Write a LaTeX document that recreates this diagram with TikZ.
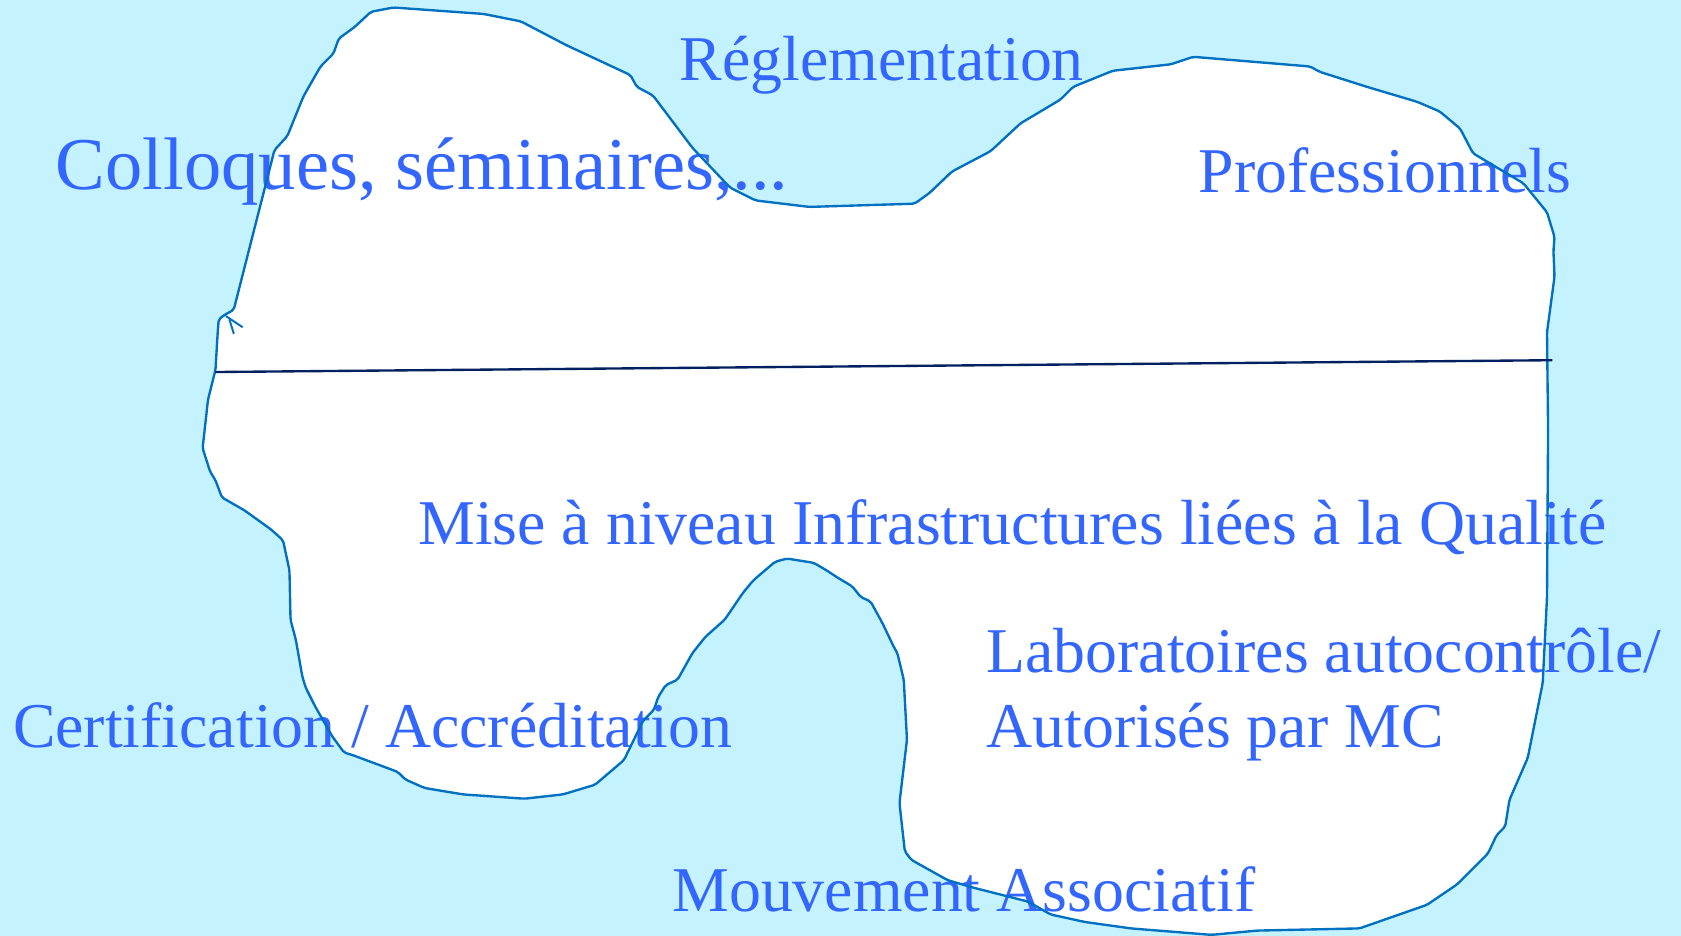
\documentclass[tikz,border=0pt]{standalone}
\usepackage{fontspec}
\setmainfont{Liberation Serif}
\usetikzlibrary{positioning}
\definecolor{SeaCyan}{HTML}{C4F2FF}
\definecolor{IsleEdge}{HTML}{0070C0}
\definecolor{IsleNavy}{HTML}{002060}
\definecolor{IsleText}{HTML}{3366FF}

% outline of the white island, traced clockwise from the small tick on the left
\newcommand\isleoutline{(218,289) -- (256,140) -- (268,127) -- (283,90) -- (299,62)
  -- (311,50) -- (316,36) -- (331,25) -- (346,11) -- (367,7) -- (451,13) -- (486,20)
  -- (528,42) -- (588,70) -- (594,81) -- (609,89) -- (646,138) -- (681,175)
  -- (705,187) -- (755,193) -- (853,190) -- (867,180) -- (888,160) -- (924,141)
  -- (952,115) -- (989,93) -- (1001,81) -- (1038,66) -- (1092,60) -- (1113,53)
  -- (1222,62) -- (1231,67) -- (1275,81) -- (1322,95) -- (1343,104) -- (1362,120)
  -- (1374,143) -- (1421,171) -- (1443,198) -- (1450,221) -- (1449,234)
  -- (1450,258) -- (1443,310) -- (1444,401) -- (1443,557) -- (1439,637)
  -- (1425,707) -- (1408,746) -- (1404,771) -- (1396,779) -- (1388,796)
  -- (1359,825) -- (1331,844) -- (1268,866) -- (1173,868) -- (1130,872)
  -- (1055,866) -- (1012,860) -- (980,853) -- (959,841) -- (908,828) -- (884,821)
  -- (850,802) -- (844,794) -- (839,749) -- (846,690) -- (843,634) -- (837,609)
  -- (834,604) -- (823,581) -- (812,561) -- (803,557) -- (795,547) -- (780,538)
  -- (771,532) -- (759,525) -- (734,521) -- (723,524) -- (703,541) -- (693,553)
  -- (676,578) -- (658,594) -- (646,609) -- (632,634) -- (621,639) -- (614,650)
  -- (610,662) -- (600,672) -- (582,709) -- (555,732) -- (525,741) -- (489,745)
  -- (432,741) -- (396,735) -- (378,727) -- (371,720) -- (328,704) -- (321,702)
  -- (310,687) -- (294,659) -- (285,641) -- (282,631) -- (276,597) -- (271,578)
  -- (270,532) -- (264,504) -- (253,494) -- (228,476) -- (207,464) -- (201,448)
  -- (196,440) -- (189,418) -- (194,373) -- (201,345) -- (203,311) -- (204,298)
  -- (209,294) -- cycle}

\begin{document}
\begin{tikzpicture}[x=1pt,y=-1pt,
  lbl/.style={text=IsleText,inner sep=0pt,anchor=base west,
    font=\fontsize{59.5}{71}\selectfont},
  shore/.style={draw=IsleEdge,line width=2.2pt,line join=round,rounded corners=2pt},
  divider/.style={draw=IsleNavy,line width=2.2pt}
]
\useasboundingbox (0,0) rectangle (1568,873);
\fill[SeaCyan] (0,0) rectangle (1568,873);
\fill[white] \isleoutline;

% labels
\node[lbl] (regl) at (634,75) {Réglementation};
\node[lbl,font=\fontsize{69.5}{80}\selectfont] (colloq) at (52,177) {Colloques, séminaires,...};
\node[lbl] (prof) at (1118,180) {Professionnels};
\node[lbl] (misaniv) at (390,508) {Mise à niveau Infrastructures liées à la Qualité};
\node[lbl] (labo) at (920,627) {Laboratoires autocontrôle/};
\node[lbl] (laboMC) at (920,697) {Autorisés par MC};
\node[lbl] (certif) at (12,697) {Certification / Accréditation};
\node[lbl] (mouv) at (627,850) {Mouvement Associatif};

\draw[shore] \isleoutline;
% little tick where the outline was started
\draw[IsleEdge,line width=1.8pt,line cap=round] (211,295) -- (226,305);
\draw[IsleEdge,line width=1.8pt,line cap=round] (214,298) -- (218,311);

\coordinate (divL) at (201,347);
\coordinate (divR) at (1448,336);
\draw[divider] (divL) -- (divR);
\end{tikzpicture}
\end{document}
